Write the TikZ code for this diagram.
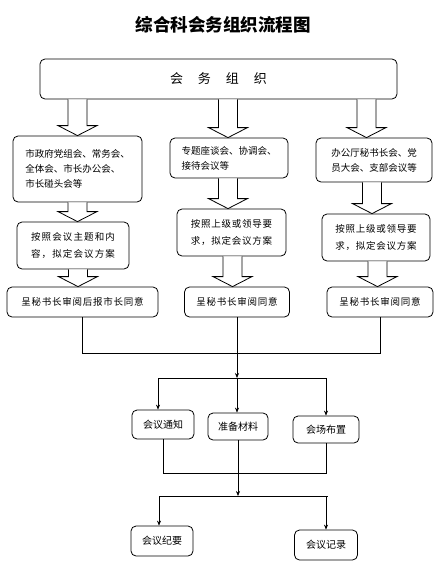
\documentclass[tikz,border=0pt]{standalone}
\usepackage{fontspec}
\setmainfont{Noto Sans CJK SC}
\usetikzlibrary{arrows.meta,calc}
\tikzset{
  box/.style={draw,rounded corners=5pt,line width=.8pt,inner sep=0pt,align=left,font=\fontsize{9.5}{15}\selectfont},
  line/.style={line width=.6pt},
  arr/.style={line width=.6pt,-{Stealth[length=5pt,width=4pt]}},
  hollow/.style={draw,line width=.8pt,fill=white}
}
% hollow arrow: x, upper node, lower node
\newcommand{\blockarrow}[3]{%
  \path (#2.south -| #1,0) coordinate (ht) (#3.north -| #1,0) coordinate (hb);
  \draw[hollow] ($(ht)+(-9.5,0)$) -- ($(hb)+(-9.5,-10)$) -- ($(hb)+(-19.5,-10)$) -- (hb)
    -- ($(hb)+(19.5,-10)$) -- ($(hb)+(9.5,-10)$) -- ($(ht)+(9.5,0)$);
}
\begin{document}
\begin{tikzpicture}[x=1pt,y=-1pt]
  \useasboundingbox (0,0) rectangle (446,573);
  % title
  \node (title) at (223,25) {\fontsize{17.5}{19}\selectfont\bfseries 综合科会务组织流程图};
  % top
  \node[box,minimum width=357pt,minimum height=40pt] (org) at (218.5,79)
    {\fontsize{13}{15}\selectfont 会\hspace{15pt}务\hspace{15pt}组\hspace{15pt}织};
  % row 1
  \node[box,minimum width=129pt,minimum height=66pt] (l1) at (77.5,169)
    {市政府党组会、常务会、\\全体会、市长办公会、\\市长碰头会等};
  \node[box,minimum width=118pt,minimum height=40pt] (m1) at (229,158)
    {专题座谈会、协调会、\\接待会议等};
  \node[box,minimum width=116pt,minimum height=44pt] (r1) at (374,160)
    {办公厅秘书长会、党\\员大会、支部会议等};
  % row 2
  \node[box,minimum width=112pt,minimum height=47pt,font=\fontsize{9.5}{16.5}\selectfont\addfontfeature{LetterSpace=12}] (l2) at (73,245.5)
    {按照会议主题和内\\容，拟定会议方案};
  \node[box,minimum width=109pt,minimum height=47pt,font=\fontsize{9.5}{16.5}\selectfont\addfontfeature{LetterSpace=8}] (m2) at (231.5,232.5)
    {按照上级或领导要\\求，拟定会议方案};
  \node[box,minimum width=108pt,minimum height=47pt,font=\fontsize{9.5}{16.5}\selectfont\addfontfeature{LetterSpace=8}] (r2) at (376,237.5)
    {按照上级或领导要\\求，拟定会议方案};
  % row 3
  \node[box,minimum width=151pt,minimum height=30pt,font=\fontsize{9.5}{15}\selectfont\addfontfeature{LetterSpace=8}] (l3) at (82.5,302) {呈秘书长审阅后报市长同意};
  \node[box,minimum width=105pt,minimum height=30pt,font=\fontsize{9.5}{15}\selectfont\addfontfeature{LetterSpace=8}] (m3) at (237,302) {呈秘书长审阅同意};
  \node[box,minimum width=106pt,minimum height=30pt,font=\fontsize{9.5}{15}\selectfont\addfontfeature{LetterSpace=8}] (r3) at (380,302) {呈秘书长审阅同意};
  % hollow arrows
  \blockarrow{77.5}{org}{l1}
  \blockarrow{228}{org}{m1}
  \blockarrow{366.5}{org}{r1}
  \blockarrow{77.5}{l1}{l2}
  \blockarrow{228}{m1}{m2}
  \blockarrow{372}{r1}{r2}
  \blockarrow{78}{l2}{l3}
  \blockarrow{232.5}{m2}{m3}
  \blockarrow{377.5}{r2}{r3}
  % preparation
  \node[box,minimum width=62pt,minimum height=29pt,font=\fontsize{10}{12}\selectfont] (n1) at (163,424.5) {会议通知};
  \node[box,minimum width=60pt,minimum height=27pt,font=\fontsize{10}{12}\selectfont] (n2) at (238,426.5) {准备材料};
  \node[box,minimum width=66pt,minimum height=27pt,font=\fontsize{10}{12}\selectfont] (n3) at (326,429.5) {会场布置};
  % results
  \node[box,minimum width=62pt,minimum height=30pt,font=\fontsize{10}{12}\selectfont] (s1) at (162,541) {会议纪要};
  \node[box,minimum width=63pt,minimum height=30pt,font=\fontsize{10}{12}\selectfont] (s2) at (326,545) {会议记录};
  % merge after approval
  \coordinate (j1) at (237,353);
  \coordinate (b1) at (237,378);
  \coordinate (b1l) at (158,378);
  \draw[line] (l3.south) -- (l3.south |- j1) -- (r3.south |- j1) -- (r3.south);
  \draw[arr] (m3.south) -- (b1);
  \draw[line] (b1l) -- (n3.north |- b1);
  \draw[arr] (b1l) -- (b1l |- n1.north);
  \draw[arr] (b1) -- (n2.north -| b1);
  \draw[arr] (n3.north |- b1) -- (n3.north);
  % merge after preparation
  \coordinate (j2) at (238,473);
  \coordinate (b2) at (238,496);
  \coordinate (b2l) at (159,496);
  \coordinate (b2r) at (328,496);
  \draw[line] (n1.south) -- (n1.south |- j2) -- (n3.south |- j2) -- (n3.south);
  \draw[arr] (n2.south) -- (b2);
  \draw[line] (b2l) -- (b2r);
  \draw[arr] (b2l) -- (b2l |- s1.north);
  \draw[arr] (s2.north |- b2) -- (s2.north);
\end{tikzpicture}
\end{document}
